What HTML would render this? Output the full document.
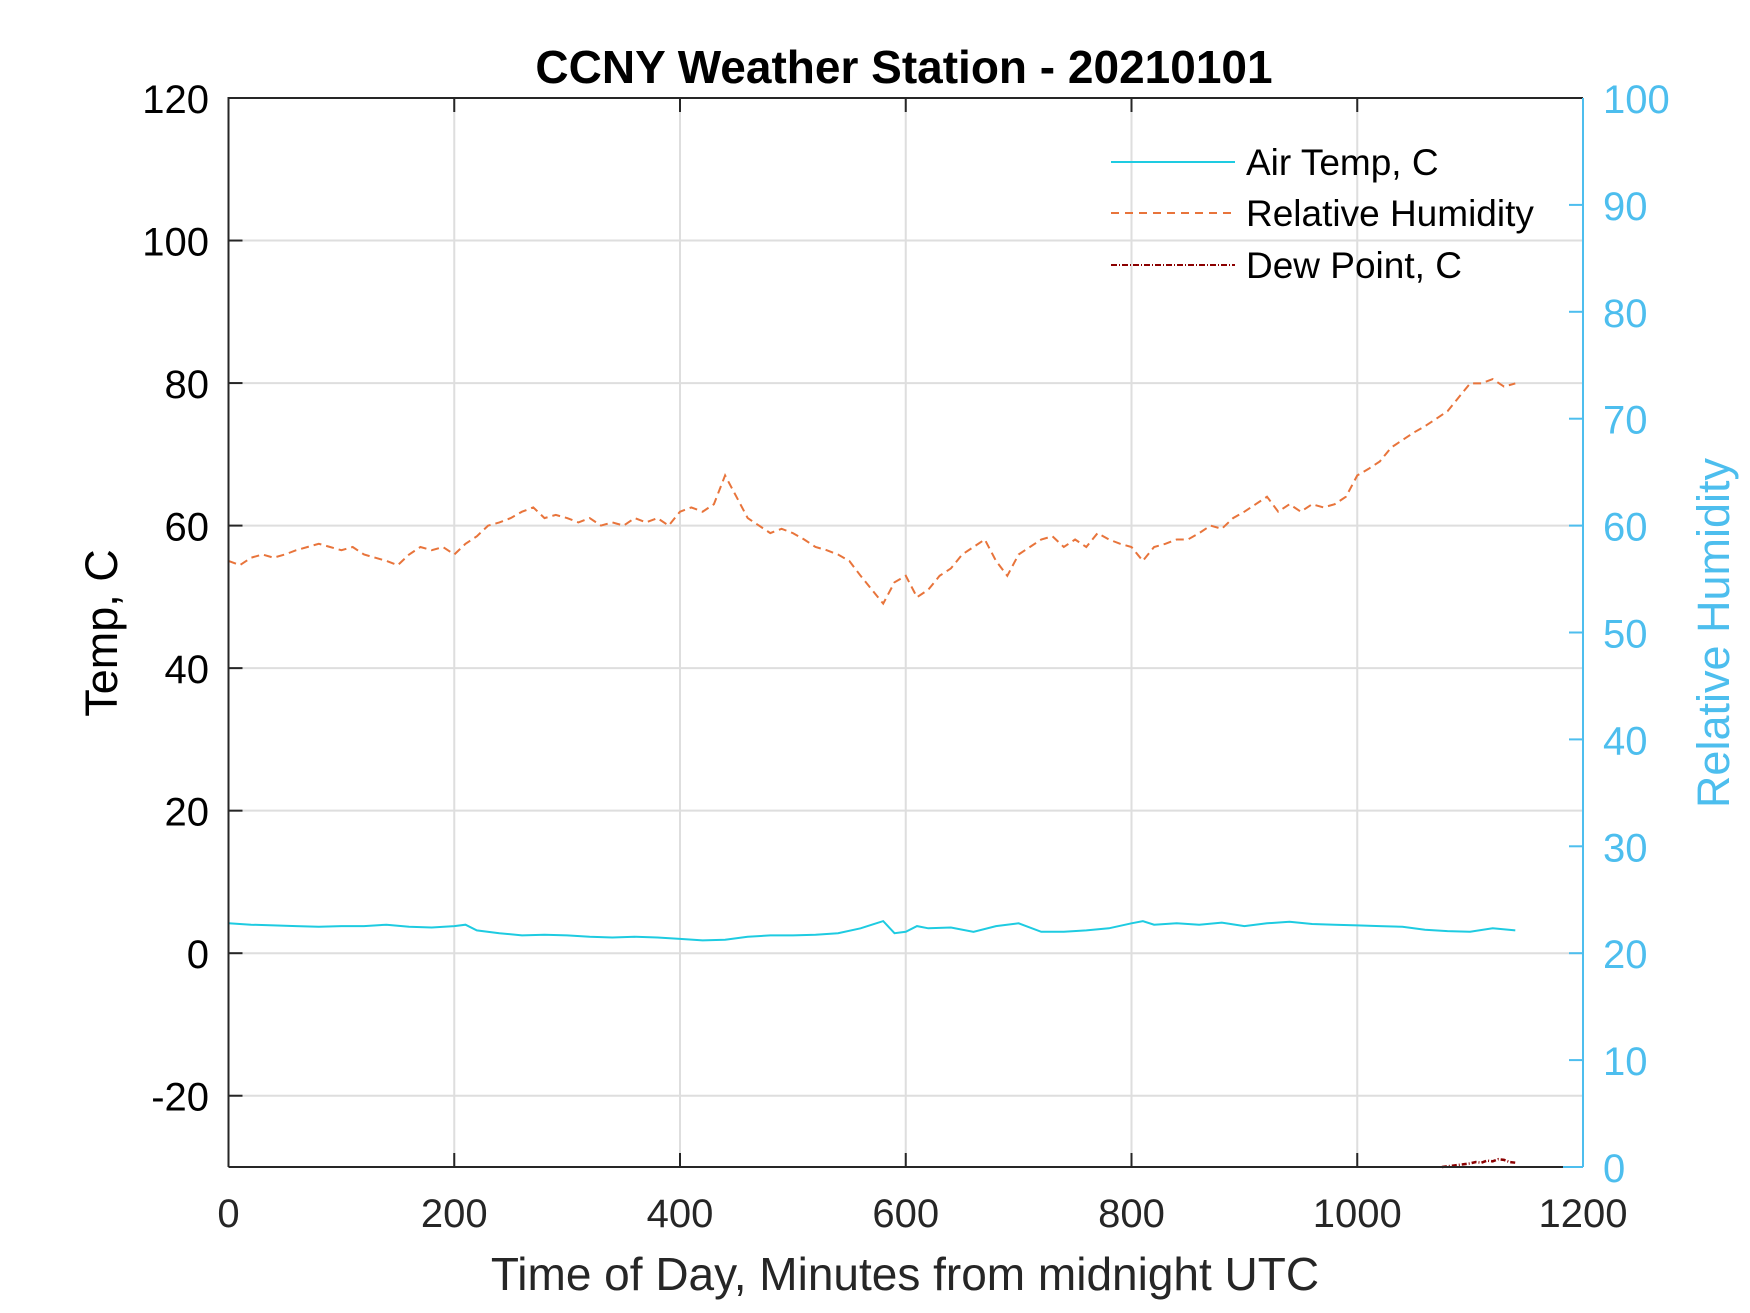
<!DOCTYPE html>
<html><head><meta charset="utf-8"><style>
html,body{margin:0;padding:0;background:#fff;}
svg{display:block;font-family:"Liberation Sans",Arial,sans-serif;}
</style></head><body>
<svg id="chart" width="1750" height="1313" viewBox="0 0 1750 1313">
<rect x="0" y="0" width="1750" height="1313" fill="#fff"/>
<g id="grid"></g>
<g id="series"></g>
<g id="axes"></g>
<text x="904" y="83" text-anchor="middle" font-size="46" font-weight="bold">CCNY Weather Station - 20210101</text>
<text x="905" y="1290" text-anchor="middle" font-size="46" fill="#262626">Time of Day, Minutes from midnight UTC</text>
<text transform="translate(117,633) rotate(-90)" text-anchor="middle" font-size="45" fill="#000">Temp, C</text>
<text transform="translate(1729,633) rotate(-90)" text-anchor="middle" font-size="45" fill="#4DBEEE">Relative Humidity</text>
<g>
<g>
<line x1="1111" y1="162" x2="1235" y2="162" stroke="#1ECBE1" stroke-width="2"/>
<text x="1246" y="175" font-size="37">Air Temp, C</text></g>
<g>
<line x1="1111" y1="213" x2="1235" y2="213" stroke="#E8743B" stroke-width="2" stroke-dasharray="8,6"/>
<text x="1246" y="226" font-size="37">Relative Humidity</text></g>
<g>
<line x1="1111" y1="265" x2="1235" y2="265" stroke="#8B0000" stroke-width="2" stroke-dasharray="6,2,1,2"/>
<text x="1246" y="278" font-size="37">Dew Point, C</text></g>
</g>
</svg>
<script>
const xTicks=[0,200,400,600,800,1000,1200];
const yTicks=[-20,0,20,40,60,80,100,120];
const rhTicks=[0,10,20,30,40,50,60,70,80,90,100];
const tempX=[0,20,40,60,80,100,120,140,160,180,200,210,220,240,260,280,300,320,340,360,380,400,420,440,460,480,500,520,540,560,570,580,590,600,610,620,640,660,680,700,720,740,760,780,800,810,820,840,860,880,900,920,940,960,980,1000,1020,1040,1060,1080,1100,1120,1140];
const tempY=[4.2,4,3.9,3.8,3.7,3.8,3.8,4,3.7,3.6,3.8,4,3.2,2.8,2.5,2.6,2.5,2.3,2.2,2.3,2.2,2,1.8,1.9,2.3,2.5,2.5,2.6,2.8,3.5,4,4.5,2.8,3,3.8,3.5,3.6,3,3.8,4.2,3,3,3.2,3.5,4.2,4.5,4,4.2,4,4.3,3.8,4.2,4.4,4.1,4,3.9,3.8,3.7,3.3,3.1,3,3.5,3.2];
const rhX=[0,10,20,30,40,50,60,70,80,90,100,110,120,130,140,150,160,170,180,190,200,210,220,230,240,250,260,270,280,290,300,310,320,330,340,350,360,370,380,390,400,410,420,430,440,450,460,470,480,490,500,510,520,530,540,550,560,570,580,590,600,610,620,630,640,650,660,670,680,690,700,710,720,730,740,750,760,770,780,790,800,810,820,830,840,850,860,870,880,890,900,910,920,930,940,950,960,970,980,990,1000,1010,1020,1030,1040,1050,1060,1070,1080,1090,1100,1110,1120,1130,1140];
const rhY=[56.7,56.3,57,57.3,57,57.3,57.7,58,58.3,58,57.7,58,57.3,57,56.7,56.3,57.3,58,57.7,58,57.3,58.3,59,60,60.3,60.7,61.3,61.7,60.7,61,60.7,60.3,60.7,60,60.3,60,60.7,60.3,60.7,60,61.3,61.7,61.3,62,64.7,62.7,60.7,60,59.3,59.7,59.3,58.7,58,57.7,57.3,56.7,55.3,54,52.7,54.7,55.3,53.3,54,55.3,56,57.3,58,58.7,56.7,55.3,57.3,58,58.7,59,58,58.7,58,59.3,58.7,58.3,58,56.7,58,58.3,58.7,58.7,59.3,60,59.7,60.7,61.3,62,62.7,61.3,62,61.3,62,61.7,62,62.7,64.7,65.3,66,67.3,68,68.7,69.3,70,70.7,72,73.3,73.3,73.7,73,73.3];
const dewX=[1075,1080,1085,1090,1095,1100,1105,1110,1115,1120,1125,1130,1135,1140];
const dewY=[-30,-29.9,-29.8,-29.7,-29.6,-29.5,-29.3,-29.4,-29.1,-29.2,-28.9,-29.0,-29.3,-29.4];

const L=228.5,R=1583,T=98,B=1167;
const sx=v=>L+(v/1200)*(R-L);
const sy=v=>B-((v+30)/150)*(B-T);
const sr=v=>B-(v/100)*(B-T);
const NS='http://www.w3.org/2000/svg';
function mk(tag,attrs,parent){const e=document.createElementNS(NS,tag);for(const k in attrs)e.setAttribute(k,attrs[k]);parent.appendChild(e);return e;}
const grid=document.getElementById('grid'),axes=document.getElementById('axes'),series=document.getElementById('series');
xTicks.forEach(t=>{
  if(t>0&&t<1200){const g=mk('line',{x1:sx(t),x2:sx(t),y1:T,y2:B,stroke:'#dedede','stroke-width':2},grid);
  
  }
  mk('line',{x1:sx(t),x2:sx(t),y1:B,y2:B-14,stroke:'#262626','stroke-width':2},axes);
  mk('line',{x1:sx(t),x2:sx(t),y1:T,y2:T+14,stroke:'#262626','stroke-width':2},axes);
  const lb=mk('text',{x:sx(t),y:B+60,'text-anchor':'middle','font-size':40,fill:'#262626'},axes);
  lb.textContent=t;
  
  
});
yTicks.forEach(t=>{
  if(t<120){const g=mk('line',{x1:L,x2:R,y1:sy(t),y2:sy(t),stroke:'#dedede','stroke-width':2},grid);
  
  }
  mk('line',{x1:L,x2:L+14,y1:sy(t),y2:sy(t),stroke:'#262626','stroke-width':2},axes);
  const lb=mk('text',{x:209,y:sy(t)+15,'text-anchor':'end','font-size':40,fill:'#000'},axes);
  lb.textContent=t;
  
  
});
rhTicks.forEach(t=>{
  mk('line',{x1:R,x2:R-14,y1:sr(t),y2:sr(t),stroke:'#4DBEEE','stroke-width':2},axes);
  const lb=mk('text',{x:1603,y:sr(t)+15,'font-size':40,fill:'#4DBEEE'},axes);
  lb.textContent=t;
  
  
});
mk('path',{d:`M${L},${B}V${T}H${R}`,fill:'none',stroke:'#262626','stroke-width':2},axes);
mk('line',{x1:L,x2:R-20,y1:B,y2:B,stroke:'#262626','stroke-width':2},axes);
mk('line',{x1:R,x2:R,y1:T,y2:B,stroke:'#4DBEEE','stroke-width':2},axes);
mk('line',{x1:R-20,x2:R,y1:B,y2:B,stroke:'#4DBEEE','stroke-width':2},axes);

function path(xs,ys,fy){return xs.map((x,i)=>(i?'L':'M')+sx(x).toFixed(1)+','+fy(ys[i]).toFixed(1)).join('');}
const p1=mk('path',{d:path(tempX,tempY,sy),fill:'none',stroke:'#1ECBE1','stroke-width':2},series);


const p2=mk('path',{d:path(rhX,rhY,sr),fill:'none',stroke:'#E8743B','stroke-width':2,'stroke-dasharray':'8,5'},series);


const p3=mk('path',{d:path(dewX,dewY,sy),fill:'none',stroke:'#8B0000','stroke-width':2.5,'stroke-dasharray':'5,2,1,2'},series);


</script>
</body></html>
